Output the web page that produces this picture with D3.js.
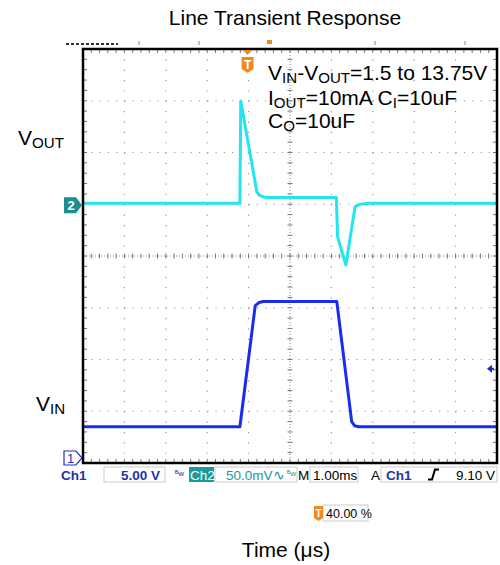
<!DOCTYPE html>
<html>
<head>
<meta charset="utf-8">
<script src="https://cdn.jsdelivr.net/npm/d3@7"></script>
<style>
  body { margin: 0; background: #fff; }
  text { font-family: "Liberation Sans", Arial, sans-serif; }
</style>
</head>
<body>
<svg id="chart" width="500" height="565"></svg>
<script>
// scope settings
const timePerDiv = 1.0;      // ms/div
const ch1PerDiv = 5.0;       // V/div
const ch2PerDiv = 50.0;      // mV/div
const ch2Offset = 1.02;      // divisions above centre
const triggerPct = 40;       // %
const triggerLevel = 9.10;   // V

// VIN (Ch1), volts
const vinTime = [0, 3.79, 4.16, 4.25, 4.36, 6.13, 6.49, 6.56, 6.66, 10];
const vinVolt = [3.5, 3.5, 15.2, 15.5, 15.6, 15.6, 4.0, 3.6, 3.5, 3.5];

// VOUT (Ch2, AC), millivolts
const voutTime = [0, 3.79, 3.81, 4.20, 4.27, 4.36, 4.5, 6.12, 6.15, 6.35, 6.57, 6.69, 6.9, 10];
const voutMv = [0, 0, 98.7, 10.9, 7.5, 6.1, 5.5, 5.5, -32.5, -59.8, -3.6, -1, 0, 0];

const statusItems = ["Ch1", "5.00 V", "Ch2", "50.0mV", "M", "1.00ms", "A", "Ch1", "9.10 V"];

const svg = d3.select("#chart");

const x = d3.scaleLinear().domain([0, 10 * timePerDiv]).range([83, 497]);
const gy = d3.scaleLinear().domain([-4, 4]).range([463, 49]);
const y1 = v => gy(-4 + v / ch1PerDiv);
const y2 = mv => gy(ch2Offset + mv / ch2PerDiv);

const [x0, x1] = x.range();
const [yb, yt] = gy.range();
const dx = (x1 - x0) / 10, dy = (yb - yt) / 8;

// title
svg.append("text").attr("x", 285).attr("y", 25).attr("text-anchor", "middle")
  .attr("font-size", 21).text("Line Transient Response");
svg.append("text").attr("x", 286).attr("y", 557).attr("text-anchor", "middle")
  .attr("font-size", 21).text("Time (μs)");

// clipped strip above screen
const strip = svg.append("g").attr("stroke", "#888").attr("stroke-width", 1);
[139, 199, 375, 465].forEach(px => strip.append("line").attr("x1", px).attr("x2", px).attr("y1", 41).attr("y2", 45));
svg.append("line").attr("x1", 66).attr("x2", 118).attr("y1", 44).attr("y2", 44)
  .attr("stroke", "#333").attr("stroke-width", 2).attr("stroke-dasharray", "3 2");
svg.append("rect").attr("x", 267).attr("y", 40).attr("width", 5).attr("height", 4).attr("fill", "#f08a1e");

// grid
const grid = svg.append("g");
d3.range(1, 10).filter(i => i !== 5).forEach(i => {
  grid.append("line").attr("x1", x(i)).attr("x2", x(i)).attr("y1", yt).attr("y2", yb)
    .attr("stroke", "#999").attr("stroke-width", 1.2).attr("stroke-dasharray", `1.2 ${dy / 5 - 1.2}`);
});
d3.range(-3, 4).filter(i => i !== 0).forEach(i => {
  grid.append("line").attr("x1", x0).attr("x2", x1).attr("y1", gy(i)).attr("y2", gy(i))
    .attr("stroke", "#999").attr("stroke-width", 1.2).attr("stroke-dasharray", `1.2 ${dx / 5 - 1.2}`);
});
// centre cross
const cx = x(5), cy = gy(0);
grid.append("line").attr("x1", cx).attr("x2", cx).attr("y1", yt).attr("y2", yb)
  .attr("stroke", "#888").attr("stroke-width", 1).attr("stroke-dasharray", "1 2");
grid.append("line").attr("x1", x0).attr("x2", x1).attr("y1", cy).attr("y2", cy)
  .attr("stroke", "#888").attr("stroke-width", 1).attr("stroke-dasharray", "1 2");
d3.range(0, 50).forEach(k => {
  const px = x0 + k * dx / 5;
  grid.append("line").attr("x1", px).attr("x2", px).attr("y1", cy - 2.5).attr("y2", cy + 2.5).attr("stroke", "#777");
  grid.append("line").attr("x1", px).attr("x2", px).attr("y1", yt).attr("y2", yt + 4).attr("stroke", "#777");
  grid.append("line").attr("x1", px).attr("x2", px).attr("y1", yb).attr("y2", yb - 4).attr("stroke", "#777");
});
d3.range(0, 40).forEach(k => {
  const py = yt + k * dy / 5;
  grid.append("line").attr("x1", cx - 2.5).attr("x2", cx + 2.5).attr("y1", py).attr("y2", py).attr("stroke", "#777");
  grid.append("line").attr("x1", x0).attr("x2", x0 + 4).attr("y1", py).attr("y2", py).attr("stroke", "#777");
  grid.append("line").attr("x1", x1).attr("x2", x1 - 4).attr("y1", py).attr("y2", py).attr("stroke", "#777");
});

// traces
const line1 = d3.line().x((d, i) => x(vinTime[i])).y(d => y1(d));
const line2 = d3.line().x((d, i) => x(voutTime[i])).y(d => y2(d));
svg.append("path").attr("d", line1(vinVolt)).attr("fill", "none")
  .attr("stroke", "#1a2cf0").attr("stroke-width", 3).attr("stroke-linejoin", "round");
svg.append("path").attr("d", line2(voutMv)).attr("fill", "none")
  .attr("stroke", "#22e5f0").attr("stroke-width", 3).attr("stroke-linejoin", "round");

// frame
svg.append("rect").attr("x", x0).attr("y", yt).attr("width", x1 - x0).attr("height", yb - yt)
  .attr("fill", "none").attr("stroke", "#000").attr("stroke-width", 2.5);

// trigger position marker
const tx = x(triggerPct / 100 * 10 * timePerDiv) - 1;
svg.append("path").attr("d", `M${tx - 5},${yt + 1} L${tx + 5},${yt + 1} L${tx},${yt + 6} Z`).attr("fill", "#f08a1e");
svg.append("path").attr("d", `M${tx - 6},${yt + 8} L${tx + 6},${yt + 8} L${tx + 6},${yt + 20} L${tx},${yt + 24} L${tx - 6},${yt + 20} Z`)
  .attr("fill", "#f08a1e");
svg.append("text").attr("x", tx).attr("y", yt + 20).attr("text-anchor", "middle").attr("fill", "#fff")
  .attr("font-size", 12).attr("font-weight", "bold").text("T");

// trigger level arrow
const ly = y1(triggerLevel);
svg.append("path").attr("d", `M${x1 - 10},${ly} L${x1 - 5},${ly - 4} L${x1 - 5},${ly + 4} Z`).attr("fill", "#1a2cb0");
svg.append("line").attr("x1", x1 - 6).attr("x2", x1 - 3).attr("y1", ly).attr("y2", ly).attr("stroke", "#1a2cb0").attr("stroke-width", 2);

// channel markers
const m2 = y2(0) + 2;
svg.append("path").attr("d", `M64,${m2 - 8} L76,${m2 - 8} L82,${m2} L76,${m2 + 8} L64,${m2 + 8} Z`).attr("fill", "#1a8f8f");
svg.append("text").attr("x", 71).attr("y", m2 + 5).attr("text-anchor", "middle").attr("fill", "#fff")
  .attr("font-size", 13).attr("font-weight", "bold").text("2");
const m1 = y1(0) - 5;
svg.append("path").attr("d", `M64,${m1 - 7} L76,${m1 - 7} L82,${m1} L76,${m1 + 7} L64,${m1 + 7} Z`)
  .attr("fill", "#fff").attr("stroke", "#2233bb").attr("stroke-width", 1.2);
svg.append("text").attr("x", 70.5).attr("y", m1 + 5).attr("text-anchor", "middle").attr("fill", "#2233bb")
  .attr("font-size", 13).text("1");

// labels with subscripts
function subText(g, px, py, parts, size) {
  const t = g.append("text").attr("x", px).attr("y", py).attr("font-size", size);
  let down = false;
  const shift = size * 0.15;
  parts.forEach(([s, sub]) => {
    const ts = t.append("tspan").attr("font-size", sub ? size * 0.72 : size).text(s);
    if (sub && !down) { ts.attr("dy", shift); down = true; }
    else if (!sub && down) { ts.attr("dy", -shift); down = false; }
  });
  return t;
}
subText(svg, 18, 145, [["V"], ["OUT", true]], 21);
subText(svg, 36, 411, [["V"], ["IN", true]], 21);
subText(svg, 268, 80, [["V"], ["IN", true], ["-V"], ["OUT", true], ["=1.5 to 13.75V"]], 21);
subText(svg, 268, 105, [["I"], ["OUT", true], ["=10mA C"], ["I", true], ["=10uF"]], 21);
subText(svg, 268, 128, [["C"], ["O", true], ["=10uF"]], 21);

// status bar
const sb = svg.append("g").attr("font-size", 13.5);
const sy = 479.5;
const boxes = [[104, 61], [215, 82], [310, 48], [381, 116]];
boxes.forEach(([bx, bw]) => sb.append("rect").attr("x", bx).attr("y", 467).attr("width", bw).attr("height", 15)
  .attr("fill", "#fff").attr("stroke", "#ccc"));
sb.append("rect").attr("x", 189).attr("y", 467).attr("width", 25).attr("height", 15).attr("fill", "#1a9a9a");
sb.append("text").attr("x", 61).attr("y", sy).attr("fill", "#2233aa").attr("font-weight", "bold").text(statusItems[0]);
sb.append("text").attr("x", 160).attr("y", sy).attr("text-anchor", "end").attr("fill", "#2233aa").attr("font-weight", "bold").text(statusItems[1]);
sb.append("text").attr("x", 175).attr("y", 476).attr("fill", "#2233aa").attr("font-size", 8).text("ᴮw");
sb.append("text").attr("x", 190).attr("y", sy).attr("fill", "#fff").text(statusItems[2]);
sb.append("text").attr("x", 226).attr("y", sy).attr("fill", "#1a9a9a").text(statusItems[3] + "∿");
sb.append("text").attr("x", 287).attr("y", 476).attr("fill", "#1a9a9a").attr("font-size", 8).text("ᴮw");
sb.append("text").attr("x", 298).attr("y", sy).attr("fill", "#000").text(statusItems[4]);
sb.append("text").attr("x", 313).attr("y", sy).attr("fill", "#000").text(statusItems[5]);
sb.append("text").attr("x", 371).attr("y", sy).attr("fill", "#000").text(statusItems[6]);
sb.append("text").attr("x", 386).attr("y", sy).attr("fill", "#2233aa").attr("font-weight", "bold").text(statusItems[7]);
sb.append("path").attr("d", `M428,${sy} L432,${sy} L435,${sy - 10} L439,${sy - 10}`).attr("fill", "none")
  .attr("stroke", "#000").attr("stroke-width", 2);
sb.append("text").attr("x", 495).attr("y", sy).attr("text-anchor", "end").attr("fill", "#000").text(statusItems[8]);

// horizontal position readout
svg.append("rect").attr("x", 323).attr("y", 505).attr("width", 45).attr("height", 16).attr("fill", "#fff").attr("stroke", "#ccc");
svg.append("path").attr("d", "M314,506 L323,506 L323,518 L318.5,521 L314,518 Z").attr("fill", "#f08a1e");
svg.append("text").attr("x", 318.5).attr("y", 517).attr("text-anchor", "middle").attr("fill", "#fff")
  .attr("font-size", 10).attr("font-weight", "bold").text("T");
svg.append("text").attr("x", 326).attr("y", 518).attr("font-size", 12.5).text(triggerPct.toFixed(2) + " %");
</script>
</body>
</html>
